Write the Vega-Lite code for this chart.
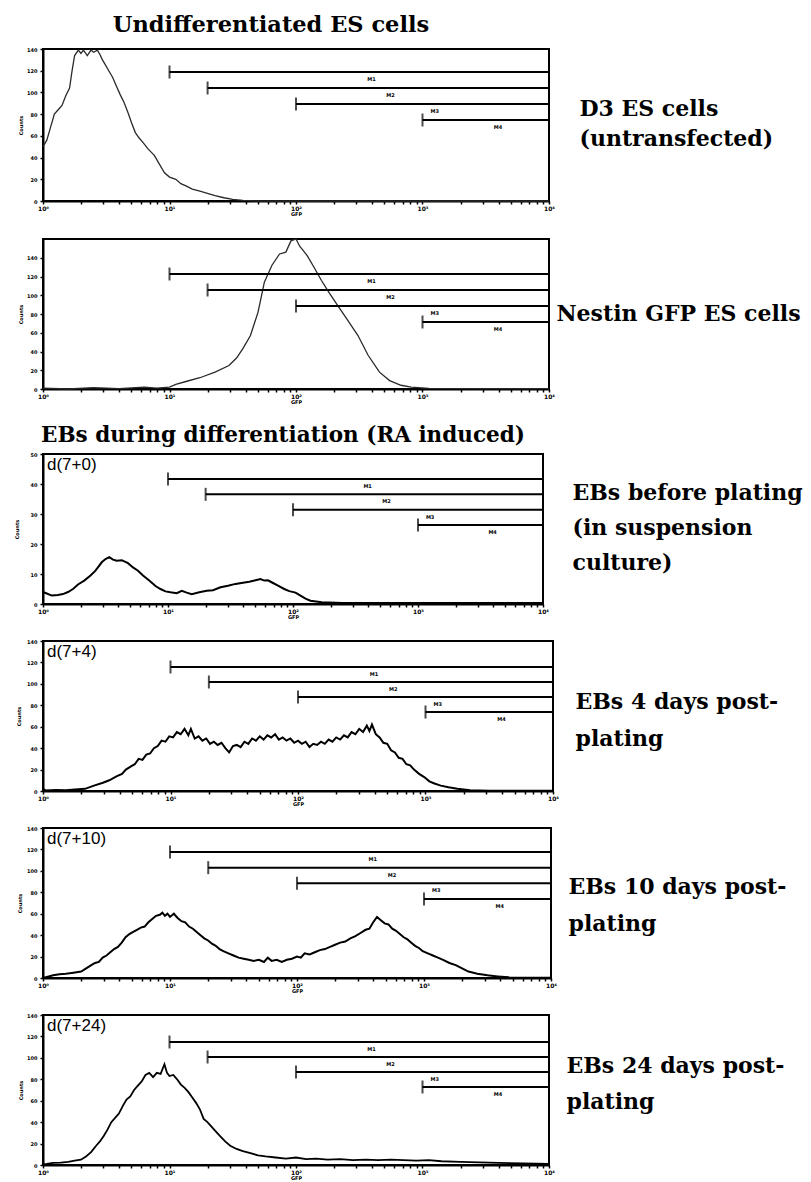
{
  "$schema": "https://vega.github.io/schema/vega-lite/v6.json",
  "background": "white",
  "padding": {"left": 13, "top": 12, "right": 0, "bottom": 0},
  "config": {
    "view": {"stroke": "black", "strokeWidth": 2},
    "axis": {"domainColor": "black", "domainWidth": 2, "tickColor": "black", "tickWidth": 1.5, "labelColor": "black", "titleColor": "black", "labelFont": "DejaVu Sans", "labelFontWeight": "bold", "titleFont": "DejaVu Sans", "titleFontWeight": "bold", "grid": false, "labelFlush": false},
    "axisX": {"tickSize": 3, "labelFontSize": 6, "labelPadding": 1, "titleFontSize": 5, "titlePadding": 0},
    "axisY": {"tickSize": 3, "labelFontSize": 5, "labelPadding": 3, "titleFontSize": 5, "titlePadding": 3},
    "title": {"font": "DejaVu Serif", "fontWeight": "bold", "fontSize": 20, "color": "black"}
  },
  "datasets": {
    "h1": [{"gfp":1,"count":50},{"gfp":1.072,"count":56},{"gfp":1.148,"count":68},{"gfp":1.23,"count":80},{"gfp":1.318,"count":84},{"gfp":1.413,"count":88},{"gfp":1.514,"count":97},{"gfp":1.622,"count":104},{"gfp":1.698,"count":120},{"gfp":1.778,"count":134},{"gfp":1.905,"count":139},{"gfp":1.995,"count":136},{"gfp":2.089,"count":139},{"gfp":2.239,"count":134},{"gfp":2.399,"count":139},{"gfp":2.512,"count":137},{"gfp":2.692,"count":139},{"gfp":2.818,"count":135},{"gfp":2.951,"count":130},{"gfp":3.09,"count":126},{"gfp":3.311,"count":120},{"gfp":3.548,"count":114},{"gfp":3.802,"count":106},{"gfp":4.074,"count":98},{"gfp":4.365,"count":91},{"gfp":4.677,"count":82},{"gfp":5.012,"count":72},{"gfp":5.37,"count":63},{"gfp":5.754,"count":58},{"gfp":6.166,"count":54},{"gfp":6.761,"count":48},{"gfp":7.586,"count":42},{"gfp":8.318,"count":34},{"gfp":9.12,"count":26},{"gfp":10,"count":22},{"gfp":11.22,"count":20},{"gfp":12.3,"count":16},{"gfp":13.49,"count":14},{"gfp":15.14,"count":11},{"gfp":17.38,"count":9},{"gfp":19.95,"count":7},{"gfp":22.91,"count":5},{"gfp":26.92,"count":3},{"gfp":31.62,"count":1.5},{"gfp":38.02,"count":0.5},{"gfp":50.12,"count":0},{"gfp":10000,"count":0}],
    "h2": [{"gfp":1,"count":1},{"gfp":1.585,"count":0},{"gfp":2.512,"count":1.5},{"gfp":3.981,"count":0.5},{"gfp":6.31,"count":2},{"gfp":7.943,"count":1},{"gfp":10,"count":2},{"gfp":11.22,"count":5},{"gfp":13.49,"count":8},{"gfp":17.38,"count":12},{"gfp":22.91,"count":18},{"gfp":29.51,"count":25},{"gfp":33.88,"count":33},{"gfp":38.02,"count":43},{"gfp":43.65,"count":57},{"gfp":50.12,"count":82},{"gfp":56.23,"count":114},{"gfp":64.57,"count":132},{"gfp":74.13,"count":144},{"gfp":83.18,"count":146},{"gfp":91.2,"count":158},{"gfp":100,"count":160},{"gfp":107.2,"count":152},{"gfp":112.2,"count":149},{"gfp":123,"count":142},{"gfp":141.3,"count":128},{"gfp":158.5,"count":116},{"gfp":182,"count":103},{"gfp":213.8,"count":89},{"gfp":251.2,"count":75},{"gfp":309,"count":57},{"gfp":371.5,"count":36},{"gfp":457.1,"count":18},{"gfp":549.5,"count":9},{"gfp":676.1,"count":4},{"gfp":812.8,"count":2},{"gfp":1122,"count":0.7},{"gfp":3162,"count":0.5},{"gfp":10000,"count":0.3}],
    "h3": [{"gfp":1,"count":4},{"gfp":1.072,"count":3.5},{"gfp":1.175,"count":2.8},{"gfp":1.318,"count":3},{"gfp":1.445,"count":3.3},{"gfp":1.585,"count":4},{"gfp":1.738,"count":5},{"gfp":1.905,"count":6.5},{"gfp":2.138,"count":7.8},{"gfp":2.399,"count":9.5},{"gfp":2.63,"count":11.1},{"gfp":2.951,"count":13.9},{"gfp":3.162,"count":15},{"gfp":3.388,"count":15.6},{"gfp":3.631,"count":14.8},{"gfp":3.89,"count":14.4},{"gfp":4.266,"count":14.6},{"gfp":4.786,"count":13.6},{"gfp":5.248,"count":12.2},{"gfp":5.754,"count":11.1},{"gfp":6.31,"count":9.5},{"gfp":7.079,"count":7.8},{"gfp":7.943,"count":6},{"gfp":8.71,"count":5},{"gfp":9.55,"count":4.2},{"gfp":10.47,"count":3.9},{"gfp":11.75,"count":3.6},{"gfp":12.88,"count":4.4},{"gfp":14.13,"count":3.8},{"gfp":15.49,"count":3.3},{"gfp":17.78,"count":3.9},{"gfp":20.42,"count":4.4},{"gfp":22.91,"count":4.6},{"gfp":26.3,"count":5.6},{"gfp":30.2,"count":6.1},{"gfp":34.67,"count":6.7},{"gfp":39.81,"count":7.1},{"gfp":44.67,"count":7.4},{"gfp":50.12,"count":7.9},{"gfp":54.95,"count":8.3},{"gfp":58.88,"count":7.8},{"gfp":63.1,"count":7.9},{"gfp":69.18,"count":7},{"gfp":75.86,"count":6.1},{"gfp":85.11,"count":5},{"gfp":93.33,"count":4.3},{"gfp":104.7,"count":3.8},{"gfp":114.8,"count":2.8},{"gfp":125.9,"count":1.8},{"gfp":138,"count":1.1},{"gfp":169.8,"count":0.6},{"gfp":251.2,"count":0.3},{"gfp":1000,"count":0.3},{"gfp":10000,"count":0.3}],
    "h4": [{"gfp":1,"count":2},{"gfp":1.047,"count":0.5},{"gfp":1.259,"count":1},{"gfp":1.514,"count":0.6},{"gfp":1.778,"count":1.5},{"gfp":2.138,"count":2},{"gfp":2.512,"count":5},{"gfp":2.951,"count":7.7},{"gfp":3.311,"count":10},{"gfp":3.802,"count":13.8},{"gfp":4.169,"count":16},{"gfp":4.467,"count":20},{"gfp":4.898,"count":23},{"gfp":5.248,"count":25},{"gfp":5.623,"count":30},{"gfp":6.026,"count":29},{"gfp":6.457,"count":34},{"gfp":6.918,"count":35},{"gfp":7.413,"count":40},{"gfp":7.943,"count":42},{"gfp":8.511,"count":47},{"gfp":9.12,"count":46},{"gfp":9.772,"count":51},{"gfp":10.47,"count":50},{"gfp":11.22,"count":55},{"gfp":12.02,"count":53},{"gfp":12.88,"count":58},{"gfp":13.8,"count":52},{"gfp":14.45,"count":58},{"gfp":15.49,"count":49},{"gfp":16.6,"count":51},{"gfp":17.78,"count":47},{"gfp":19.05,"count":49},{"gfp":20.42,"count":44},{"gfp":21.88,"count":46},{"gfp":23.44,"count":43},{"gfp":25.12,"count":45},{"gfp":26.92,"count":40},{"gfp":28.84,"count":36},{"gfp":30.9,"count":42},{"gfp":33.11,"count":43},{"gfp":35.48,"count":41},{"gfp":38.02,"count":46},{"gfp":40.74,"count":44},{"gfp":43.65,"count":49},{"gfp":46.77,"count":47},{"gfp":50.12,"count":51},{"gfp":53.7,"count":48},{"gfp":57.54,"count":52},{"gfp":61.66,"count":50},{"gfp":66.07,"count":53},{"gfp":70.79,"count":48},{"gfp":75.86,"count":50},{"gfp":81.28,"count":47},{"gfp":87.1,"count":49},{"gfp":93.33,"count":45},{"gfp":100,"count":47},{"gfp":107.2,"count":44},{"gfp":114.8,"count":46},{"gfp":123,"count":41},{"gfp":131.8,"count":44},{"gfp":141.3,"count":43},{"gfp":151.4,"count":46},{"gfp":162.2,"count":44},{"gfp":173.8,"count":48},{"gfp":186.2,"count":46},{"gfp":199.5,"count":50},{"gfp":213.8,"count":48},{"gfp":229.1,"count":52},{"gfp":245.5,"count":50},{"gfp":263,"count":55},{"gfp":281.8,"count":53},{"gfp":302,"count":58},{"gfp":323.6,"count":55},{"gfp":346.7,"count":61},{"gfp":363.1,"count":56},{"gfp":380.2,"count":62},{"gfp":407.4,"count":53},{"gfp":436.5,"count":50},{"gfp":467.7,"count":45},{"gfp":501.2,"count":44},{"gfp":537,"count":38},{"gfp":575.4,"count":36},{"gfp":616.6,"count":31},{"gfp":660.7,"count":30},{"gfp":707.9,"count":25},{"gfp":758.6,"count":24},{"gfp":812.8,"count":20},{"gfp":891.3,"count":16},{"gfp":977.2,"count":13},{"gfp":1072,"count":9},{"gfp":1175,"count":7},{"gfp":1318,"count":5},{"gfp":1514,"count":3.5},{"gfp":1778,"count":2},{"gfp":2239,"count":0.6},{"gfp":3162,"count":0.3},{"gfp":10000,"count":0.3}],
    "h5": [{"gfp":1,"count":0},{"gfp":1.072,"count":1},{"gfp":1.202,"count":2.5},{"gfp":1.349,"count":3.5},{"gfp":1.514,"count":4},{"gfp":1.738,"count":5},{"gfp":1.995,"count":6},{"gfp":2.188,"count":9},{"gfp":2.399,"count":12},{"gfp":2.57,"count":14},{"gfp":2.754,"count":15},{"gfp":2.951,"count":19},{"gfp":3.162,"count":21},{"gfp":3.388,"count":24},{"gfp":3.631,"count":27},{"gfp":3.89,"count":29},{"gfp":4.169,"count":33},{"gfp":4.467,"count":38},{"gfp":4.786,"count":41},{"gfp":5.129,"count":43},{"gfp":5.495,"count":45},{"gfp":5.888,"count":47},{"gfp":6.31,"count":48},{"gfp":6.761,"count":52},{"gfp":7.244,"count":55},{"gfp":7.762,"count":58},{"gfp":8.318,"count":59},{"gfp":8.71,"count":61},{"gfp":9.12,"count":58},{"gfp":9.55,"count":60},{"gfp":10,"count":57},{"gfp":10.72,"count":60},{"gfp":11.48,"count":56},{"gfp":12.3,"count":53},{"gfp":13.18,"count":52},{"gfp":14.13,"count":48},{"gfp":15.14,"count":46},{"gfp":16.22,"count":43},{"gfp":17.38,"count":40},{"gfp":18.62,"count":37},{"gfp":19.95,"count":35},{"gfp":21.38,"count":32},{"gfp":22.91,"count":30},{"gfp":24.55,"count":27},{"gfp":26.3,"count":25},{"gfp":28.84,"count":23},{"gfp":31.62,"count":21},{"gfp":34.67,"count":19},{"gfp":38.02,"count":18},{"gfp":41.69,"count":17},{"gfp":45.71,"count":16},{"gfp":50.12,"count":17},{"gfp":54.95,"count":15},{"gfp":58.88,"count":19},{"gfp":63.1,"count":16},{"gfp":69.18,"count":17},{"gfp":75.86,"count":15},{"gfp":83.18,"count":17},{"gfp":91.2,"count":18},{"gfp":100,"count":20},{"gfp":107.2,"count":19},{"gfp":114.8,"count":23},{"gfp":125.9,"count":22},{"gfp":138,"count":24},{"gfp":151.4,"count":26},{"gfp":166,"count":27},{"gfp":182,"count":29},{"gfp":199.5,"count":31},{"gfp":218.8,"count":33},{"gfp":239.9,"count":34},{"gfp":263,"count":37},{"gfp":288.4,"count":39},{"gfp":316.2,"count":42},{"gfp":346.7,"count":45},{"gfp":371.5,"count":46},{"gfp":398.1,"count":52},{"gfp":426.6,"count":57},{"gfp":457.1,"count":54},{"gfp":489.8,"count":51},{"gfp":524.8,"count":50},{"gfp":562.3,"count":46},{"gfp":602.6,"count":44},{"gfp":645.7,"count":41},{"gfp":691.8,"count":38},{"gfp":741.3,"count":36},{"gfp":794.3,"count":33},{"gfp":851.1,"count":30},{"gfp":912,"count":28},{"gfp":977.2,"count":25},{"gfp":1072,"count":23},{"gfp":1175,"count":21},{"gfp":1288,"count":19},{"gfp":1413,"count":17},{"gfp":1585,"count":14},{"gfp":1778,"count":12},{"gfp":1995,"count":9},{"gfp":2239,"count":6},{"gfp":2630,"count":4},{"gfp":3162,"count":2.5},{"gfp":3802,"count":1.5},{"gfp":4677,"count":0.6},{"gfp":6310,"count":0.3},{"gfp":10000,"count":0.3}],
    "h6": [{"gfp":1,"count":0.5},{"gfp":1.072,"count":1},{"gfp":1.202,"count":2},{"gfp":1.38,"count":2.2},{"gfp":1.585,"count":3},{"gfp":1.778,"count":4},{"gfp":1.995,"count":5},{"gfp":2.188,"count":8},{"gfp":2.399,"count":12},{"gfp":2.63,"count":18},{"gfp":2.818,"count":22},{"gfp":3.02,"count":27},{"gfp":3.236,"count":33},{"gfp":3.467,"count":40},{"gfp":3.715,"count":44},{"gfp":3.981,"count":48},{"gfp":4.266,"count":55},{"gfp":4.571,"count":61},{"gfp":4.898,"count":64},{"gfp":5.248,"count":70},{"gfp":5.623,"count":74},{"gfp":6.026,"count":78},{"gfp":6.457,"count":84},{"gfp":6.918,"count":86},{"gfp":7.413,"count":82},{"gfp":7.943,"count":86},{"gfp":8.511,"count":85},{"gfp":9.12,"count":94},{"gfp":9.55,"count":86},{"gfp":10,"count":83},{"gfp":10.72,"count":84},{"gfp":11.48,"count":80},{"gfp":12.3,"count":75},{"gfp":13.18,"count":72},{"gfp":14.13,"count":68},{"gfp":15.14,"count":63},{"gfp":16.22,"count":58},{"gfp":17.38,"count":52},{"gfp":18.62,"count":43},{"gfp":19.95,"count":40},{"gfp":21.38,"count":36},{"gfp":22.91,"count":32},{"gfp":25.12,"count":27},{"gfp":27.54,"count":22},{"gfp":30.2,"count":18},{"gfp":33.88,"count":15},{"gfp":38.02,"count":13},{"gfp":43.65,"count":11},{"gfp":50.12,"count":9},{"gfp":57.54,"count":8},{"gfp":69.18,"count":7},{"gfp":83.18,"count":6},{"gfp":100,"count":7},{"gfp":120.2,"count":5.5},{"gfp":144.5,"count":6},{"gfp":177.8,"count":5},{"gfp":223.9,"count":5.5},{"gfp":281.8,"count":4.5},{"gfp":354.8,"count":5},{"gfp":446.7,"count":4.5},{"gfp":562.3,"count":5},{"gfp":707.9,"count":4.5},{"gfp":891.3,"count":4},{"gfp":1122,"count":4.5},{"gfp":1413,"count":3.5},{"gfp":1995,"count":3},{"gfp":2818,"count":2.5},{"gfp":3981,"count":2},{"gfp":6310,"count":1.5},{"gfp":10000,"count":1}],
    "gates": [{"gate":"M1","from":10,"to":10000},{"gate":"M2","from":20,"to":10000},{"gate":"M3","from":100,"to":10000},{"gate":"M4","from":1000,"to":10000}],
    "panels": [
      {"panel":1,"day":"","label":"D3 ES cells\n(untransfected)"},
      {"panel":2,"day":"","label":"Nestin GFP ES cells"},
      {"panel":3,"day":"d(7+0)","label":"EBs before plating\n(in suspension\nculture)"},
      {"panel":4,"day":"d(7+4)","label":"EBs 4 days post-\nplating"},
      {"panel":5,"day":"d(7+10)","label":"EBs 10 days post-\nplating"},
      {"panel":6,"day":"d(7+24)","label":"EBs 24 days post-\nplating"}
    ]
  },
  "spacing": 18,
  "vconcat": [
    {"spacing": 0, "hconcat": [
      {"width": 506, "height": 152,
       "title": {"text": "Undifferentiated ES cells", "anchor": "middle", "frame": "group", "dx": -25, "offset": 11, "fontSize": 22.5},
       "resolve": {"scale": {"y": "independent"}},
       "layer": [
        {"data": {"name": "h1"}, "mark": {"type": "line", "color": "#2a2a2a", "strokeWidth": 1.3},
         "encoding": {
          "x": {"field": "gfp", "type": "quantitative", "scale": {"type": "log", "domain": [1, 10000]}, "axis": {"title": "GFP", "values": [1,2,3,4,5,6,7,8,9,10,20,30,40,50,60,70,80,90,100,200,300,400,500,600,700,800,900,1000,2000,3000,4000,5000,6000,7000,8000,9000,10000], "labelExpr": "datum.value == 1 ? '10⁰' : datum.value == 10 ? '10¹' : datum.value == 100 ? '10²' : datum.value == 1000 ? '10³' : datum.value == 10000 ? '10⁴' : ''"}},
          "y": {"field": "count", "type": "quantitative", "scale": {"domain": [0, 140]}, "axis": {"title": "Counts", "values": [0,20,40,60,80,100,120,140]}}}},
        {"data": {"name": "gates"},
         "encoding": {"y": {"field": "gate", "type": "nominal", "scale": {"type": "point", "domain": ["M1","M2","M3","M4"], "range": [23, 71], "padding": 0}, "axis": null}},
         "layer": [
          {"mark": {"type": "rule", "strokeWidth": 2, "color": "black"}, "encoding": {"x": {"field": "from", "type": "quantitative"}, "x2": {"field": "to"}}},
          {"mark": {"type": "tick", "orient": "vertical", "size": 13, "thickness": 2, "color": "black"}, "encoding": {"x": {"field": "from", "type": "quantitative"}}},
          {"transform": [{"calculate": "sqrt(datum.from * datum.to) * 1.25", "as": "mid"}], "mark": {"type": "text", "font": "DejaVu Sans", "fontSize": 5, "fontWeight": "bold", "dy": 7, "color": "black"}, "encoding": {"x": {"field": "mid", "type": "quantitative"}, "text": {"field": "gate"}}}
         ]}
       ]},
      {"width": 1, "height": 152, "view": {"stroke": null}, "data": {"name": "panels"}, "transform": [{"filter": "datum.panel == 1"}],
       "mark": {"type": "text", "align": "left", "baseline": "middle", "font": "DejaVu Serif", "fontWeight": "bold", "fontSize": 22, "lineHeight": 30, "lineBreak": "\n", "dx": 23, "dy": -16, "color": "black"},
       "encoding": {"text": {"field": "label"}}}
    ]},
    {"spacing": 0, "hconcat": [
      {"width": 506, "height": 150,
       "resolve": {"scale": {"y": "independent"}},
       "layer": [
        {"data": {"name": "h2"}, "mark": {"type": "line", "color": "#2a2a2a", "strokeWidth": 1.3},
         "encoding": {
          "x": {"field": "gfp", "type": "quantitative", "scale": {"type": "log", "domain": [1, 10000]}, "axis": {"title": "GFP", "values": [1,2,3,4,5,6,7,8,9,10,20,30,40,50,60,70,80,90,100,200,300,400,500,600,700,800,900,1000,2000,3000,4000,5000,6000,7000,8000,9000,10000], "labelExpr": "datum.value == 1 ? '10⁰' : datum.value == 10 ? '10¹' : datum.value == 100 ? '10²' : datum.value == 1000 ? '10³' : datum.value == 10000 ? '10⁴' : ''"}},
          "y": {"field": "count", "type": "quantitative", "scale": {"domain": [0, 160]}, "axis": {"title": "Counts", "values": [0,20,40,60,80,100,120,140]}}}},
        {"data": {"name": "gates"},
         "encoding": {"y": {"field": "gate", "type": "nominal", "scale": {"type": "point", "domain": ["M1","M2","M3","M4"], "range": [35, 83], "padding": 0}, "axis": null}},
         "layer": [
          {"mark": {"type": "rule", "strokeWidth": 2, "color": "black"}, "encoding": {"x": {"field": "from", "type": "quantitative"}, "x2": {"field": "to"}}},
          {"mark": {"type": "tick", "orient": "vertical", "size": 13, "thickness": 2, "color": "black"}, "encoding": {"x": {"field": "from", "type": "quantitative"}}},
          {"transform": [{"calculate": "sqrt(datum.from * datum.to) * 1.25", "as": "mid"}], "mark": {"type": "text", "font": "DejaVu Sans", "fontSize": 5, "fontWeight": "bold", "dy": 7, "color": "black"}, "encoding": {"x": {"field": "mid", "type": "quantitative"}, "text": {"field": "gate"}}}
         ]}
       ]},
      {"width": 1, "height": 150, "view": {"stroke": null}, "data": {"name": "panels"}, "transform": [{"filter": "datum.panel == 2"}],
       "mark": {"type": "text", "align": "left", "baseline": "middle", "font": "DejaVu Serif", "fontWeight": "bold", "fontSize": 22, "lineHeight": 30, "lineBreak": "\n", "dx": -4, "color": "black"},
       "encoding": {"text": {"field": "label"}}}
    ]},
    {"spacing": 0, "hconcat": [
      {"width": 500, "height": 150,
       "title": {"text": "EBs during differentiation (RA induced)", "anchor": "start", "frame": "group", "dx": -2, "offset": 6, "fontSize": 21.5},
       "resolve": {"scale": {"y": "independent"}},
       "layer": [
        {"data": {"name": "h3"}, "mark": {"type": "line", "color": "black", "strokeWidth": 2},
         "encoding": {
          "x": {"field": "gfp", "type": "quantitative", "scale": {"type": "log", "domain": [1, 10000]}, "axis": {"title": "GFP", "values": [1,2,3,4,5,6,7,8,9,10,20,30,40,50,60,70,80,90,100,200,300,400,500,600,700,800,900,1000,2000,3000,4000,5000,6000,7000,8000,9000,10000], "labelExpr": "datum.value == 1 ? '10⁰' : datum.value == 10 ? '10¹' : datum.value == 100 ? '10²' : datum.value == 1000 ? '10³' : datum.value == 10000 ? '10⁴' : ''"}},
          "y": {"field": "count", "type": "quantitative", "scale": {"domain": [0, 50]}, "axis": {"title": "Counts", "values": [0,10,20,30,40,50], "titlePadding": 11}}}},
        {"data": {"name": "gates"},
         "encoding": {"y": {"field": "gate", "type": "nominal", "scale": {"type": "point", "domain": ["M1","M2","M3","M4"], "range": [25, 71], "padding": 0}, "axis": null}},
         "layer": [
          {"mark": {"type": "rule", "strokeWidth": 2, "color": "black"}, "encoding": {"x": {"field": "from", "type": "quantitative"}, "x2": {"field": "to"}}},
          {"mark": {"type": "tick", "orient": "vertical", "size": 13, "thickness": 2, "color": "black"}, "encoding": {"x": {"field": "from", "type": "quantitative"}}},
          {"transform": [{"calculate": "sqrt(datum.from * datum.to) * 1.25", "as": "mid"}], "mark": {"type": "text", "font": "DejaVu Sans", "fontSize": 5, "fontWeight": "bold", "dy": 7, "color": "black"}, "encoding": {"x": {"field": "mid", "type": "quantitative"}, "text": {"field": "gate"}}}
         ]},
        {"data": {"name": "panels"}, "transform": [{"filter": "datum.panel == 3"}],
         "mark": {"type": "text", "align": "left", "baseline": "top", "font": "Liberation Sans", "fontSize": 17, "dx": 4, "dy": 3, "color": "black"},
         "encoding": {"x": {"datum": 1, "type": "quantitative"}, "y": {"datum": 1, "type": "quantitative", "scale": {"domain": [0, 1]}, "axis": null}, "text": {"field": "day"}}}
       ]},
      {"width": 1, "height": 150, "view": {"stroke": null}, "data": {"name": "panels"}, "transform": [{"filter": "datum.panel == 3"}],
       "mark": {"type": "text", "align": "left", "baseline": "middle", "font": "DejaVu Serif", "fontWeight": "bold", "fontSize": 22, "lineHeight": 35, "lineBreak": "\n", "dx": 22, "dy": -36, "color": "black"},
       "encoding": {"text": {"field": "label"}}}
    ]},
    {"spacing": 0, "hconcat": [
      {"width": 510, "height": 150,
       "resolve": {"scale": {"y": "independent"}},
       "layer": [
        {"data": {"name": "h4"}, "mark": {"type": "line", "color": "black", "strokeWidth": 2},
         "encoding": {
          "x": {"field": "gfp", "type": "quantitative", "scale": {"type": "log", "domain": [1, 10000]}, "axis": {"title": "GFP", "values": [1,2,3,4,5,6,7,8,9,10,20,30,40,50,60,70,80,90,100,200,300,400,500,600,700,800,900,1000,2000,3000,4000,5000,6000,7000,8000,9000,10000], "labelExpr": "datum.value == 1 ? '10⁰' : datum.value == 10 ? '10¹' : datum.value == 100 ? '10²' : datum.value == 1000 ? '10³' : datum.value == 10000 ? '10⁴' : ''"}},
          "y": {"field": "count", "type": "quantitative", "scale": {"domain": [0, 140]}, "axis": {"title": "Counts", "values": [0,20,40,60,80,100,120,140], "titlePadding": 5}}}},
        {"data": {"name": "gates"},
         "encoding": {"y": {"field": "gate", "type": "nominal", "scale": {"type": "point", "domain": ["M1","M2","M3","M4"], "range": [26, 71], "padding": 0}, "axis": null}},
         "layer": [
          {"mark": {"type": "rule", "strokeWidth": 2, "color": "black"}, "encoding": {"x": {"field": "from", "type": "quantitative"}, "x2": {"field": "to"}}},
          {"mark": {"type": "tick", "orient": "vertical", "size": 13, "thickness": 2, "color": "black"}, "encoding": {"x": {"field": "from", "type": "quantitative"}}},
          {"transform": [{"calculate": "sqrt(datum.from * datum.to) * 1.25", "as": "mid"}], "mark": {"type": "text", "font": "DejaVu Sans", "fontSize": 5, "fontWeight": "bold", "dy": 7, "color": "black"}, "encoding": {"x": {"field": "mid", "type": "quantitative"}, "text": {"field": "gate"}}}
         ]},
        {"data": {"name": "panels"}, "transform": [{"filter": "datum.panel == 4"}],
         "mark": {"type": "text", "align": "left", "baseline": "top", "font": "Liberation Sans", "fontSize": 17, "dx": 4, "dy": 3, "color": "black"},
         "encoding": {"x": {"datum": 1, "type": "quantitative"}, "y": {"datum": 1, "type": "quantitative", "scale": {"domain": [0, 1]}, "axis": null}, "text": {"field": "day"}}}
       ]},
      {"width": 1, "height": 150, "view": {"stroke": null}, "data": {"name": "panels"}, "transform": [{"filter": "datum.panel == 4"}],
       "mark": {"type": "text", "align": "left", "baseline": "middle", "font": "DejaVu Serif", "fontWeight": "bold", "fontSize": 22, "lineHeight": 37, "lineBreak": "\n", "dx": 15, "dy": -14, "color": "black"},
       "encoding": {"text": {"field": "label"}}}
    ]},
    {"spacing": 0, "hconcat": [
      {"width": 508, "height": 150,
       "resolve": {"scale": {"y": "independent"}},
       "layer": [
        {"data": {"name": "h5"}, "mark": {"type": "line", "color": "black", "strokeWidth": 2},
         "encoding": {
          "x": {"field": "gfp", "type": "quantitative", "scale": {"type": "log", "domain": [1, 10000]}, "axis": {"title": "GFP", "values": [1,2,3,4,5,6,7,8,9,10,20,30,40,50,60,70,80,90,100,200,300,400,500,600,700,800,900,1000,2000,3000,4000,5000,6000,7000,8000,9000,10000], "labelExpr": "datum.value == 1 ? '10⁰' : datum.value == 10 ? '10¹' : datum.value == 100 ? '10²' : datum.value == 1000 ? '10³' : datum.value == 10000 ? '10⁴' : ''"}},
          "y": {"field": "count", "type": "quantitative", "scale": {"domain": [0, 140]}, "axis": {"title": "Counts", "values": [0,20,40,60,80,100,120,140], "titlePadding": 4}}}},
        {"data": {"name": "gates"},
         "encoding": {"y": {"field": "gate", "type": "nominal", "scale": {"type": "point", "domain": ["M1","M2","M3","M4"], "range": [24, 71], "padding": 0}, "axis": null}},
         "layer": [
          {"mark": {"type": "rule", "strokeWidth": 2, "color": "black"}, "encoding": {"x": {"field": "from", "type": "quantitative"}, "x2": {"field": "to"}}},
          {"mark": {"type": "tick", "orient": "vertical", "size": 13, "thickness": 2, "color": "black"}, "encoding": {"x": {"field": "from", "type": "quantitative"}}},
          {"transform": [{"calculate": "sqrt(datum.from * datum.to) * 1.25", "as": "mid"}], "mark": {"type": "text", "font": "DejaVu Sans", "fontSize": 5, "fontWeight": "bold", "dy": 7, "color": "black"}, "encoding": {"x": {"field": "mid", "type": "quantitative"}, "text": {"field": "gate"}}}
         ]},
        {"data": {"name": "panels"}, "transform": [{"filter": "datum.panel == 5"}],
         "mark": {"type": "text", "align": "left", "baseline": "top", "font": "Liberation Sans", "fontSize": 17, "dx": 4, "dy": 3, "color": "black"},
         "encoding": {"x": {"datum": 1, "type": "quantitative"}, "y": {"datum": 1, "type": "quantitative", "scale": {"domain": [0, 1]}, "axis": null}, "text": {"field": "day"}}}
       ]},
      {"width": 1, "height": 150, "view": {"stroke": null}, "data": {"name": "panels"}, "transform": [{"filter": "datum.panel == 5"}],
       "mark": {"type": "text", "align": "left", "baseline": "middle", "font": "DejaVu Serif", "fontWeight": "bold", "fontSize": 22, "lineHeight": 37, "lineBreak": "\n", "dx": 10, "dy": -16, "color": "black"},
       "encoding": {"text": {"field": "label"}}}
    ]},
    {"spacing": 0, "hconcat": [
      {"width": 506, "height": 150,
       "resolve": {"scale": {"y": "independent"}},
       "layer": [
        {"data": {"name": "h6"}, "mark": {"type": "line", "color": "black", "strokeWidth": 1.8},
         "encoding": {
          "x": {"field": "gfp", "type": "quantitative", "scale": {"type": "log", "domain": [1, 10000]}, "axis": {"title": "GFP", "values": [1,2,3,4,5,6,7,8,9,10,20,30,40,50,60,70,80,90,100,200,300,400,500,600,700,800,900,1000,2000,3000,4000,5000,6000,7000,8000,9000,10000], "labelExpr": "datum.value == 1 ? '10⁰' : datum.value == 10 ? '10¹' : datum.value == 100 ? '10²' : datum.value == 1000 ? '10³' : datum.value == 10000 ? '10⁴' : ''"}},
          "y": {"field": "count", "type": "quantitative", "scale": {"domain": [0, 140]}, "axis": {"title": "Counts", "values": [0,20,40,60,80,100,120,140]}}}},
        {"data": {"name": "gates"},
         "encoding": {"y": {"field": "gate", "type": "nominal", "scale": {"type": "point", "domain": ["M1","M2","M3","M4"], "range": [27, 72], "padding": 0}, "axis": null}},
         "layer": [
          {"mark": {"type": "rule", "strokeWidth": 2, "color": "black"}, "encoding": {"x": {"field": "from", "type": "quantitative"}, "x2": {"field": "to"}}},
          {"mark": {"type": "tick", "orient": "vertical", "size": 13, "thickness": 2, "color": "black"}, "encoding": {"x": {"field": "from", "type": "quantitative"}}},
          {"transform": [{"calculate": "sqrt(datum.from * datum.to) * 1.25", "as": "mid"}], "mark": {"type": "text", "font": "DejaVu Sans", "fontSize": 5, "fontWeight": "bold", "dy": 7, "color": "black"}, "encoding": {"x": {"field": "mid", "type": "quantitative"}, "text": {"field": "gate"}}}
         ]},
        {"data": {"name": "panels"}, "transform": [{"filter": "datum.panel == 6"}],
         "mark": {"type": "text", "align": "left", "baseline": "top", "font": "Liberation Sans", "fontSize": 17, "dx": 4, "dy": 3, "color": "black"},
         "encoding": {"x": {"datum": 1, "type": "quantitative"}, "y": {"datum": 1, "type": "quantitative", "scale": {"domain": [0, 1]}, "axis": null}, "text": {"field": "day"}}}
       ]},
      {"width": 1, "height": 150, "view": {"stroke": null}, "data": {"name": "panels"}, "transform": [{"filter": "datum.panel == 6"}],
       "mark": {"type": "text", "align": "left", "baseline": "middle", "font": "DejaVu Serif", "fontWeight": "bold", "fontSize": 22, "lineHeight": 36, "lineBreak": "\n", "dx": 10, "dy": -24, "color": "black"},
       "encoding": {"text": {"field": "label"}}}
    ]}
  ]
}
